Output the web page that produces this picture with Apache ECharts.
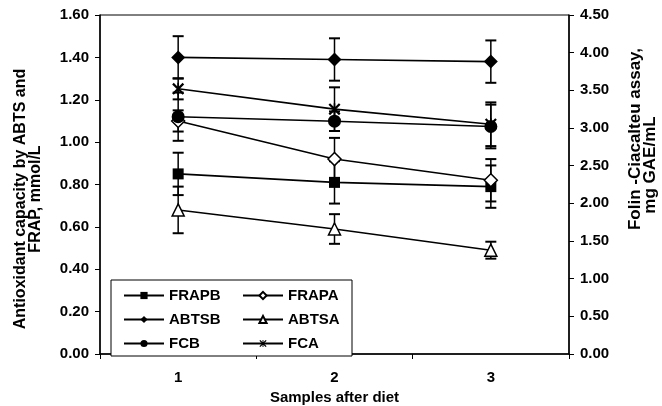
<!DOCTYPE html>
<html><head><meta charset="utf-8">
<script src="https://cdn.jsdelivr.net/npm/echarts@6/dist/echarts.min.js"></script>
<style>html,body{margin:0;padding:0;background:#fff}#c{width:662px;height:406px}</style>
</head><body><div id="c"></div>
<script>
// ---- data ----
const categories = ['1', '2', '3'];
const frapB = [0.85, 0.81, 0.79];
const frapBErr = [0.10, 0.10, 0.10];
const frapA = [1.10, 0.92, 0.82];
const frapAErr = [0.05, 0.10, 0.10];
const abtsB = [1.40, 1.39, 1.38];
const abtsBErr = [0.10, 0.10, 0.10];
const abtsA = [0.68, 0.59, 0.49];
const abtsAErr = [0.11, 0.07, 0.04];
const fcB = [3.15, 3.09, 3.02];
const fcBErr = [0.32, 0.13, 0.29];
const fcA = [3.52, 3.25, 3.05];
const fcAErr = [0.14, 0.29, 0.29];
const leftAxisName = ['Antioxidant capacity by ABTS and', 'FRAP, mmol/L'];
const rightAxisName = ['Folin -Ciacalteu assay,', 'mg GAE/mL'];
const xAxisName = 'Samples after diet';

const FONT = '"Liberation Sans", Arial, sans-serif';
const ASTERISK = 'path://M0,1.3L1.3,0L10,8.7L8.7,10Z M8.7,0L10,1.3L1.3,10L0,8.7Z M4.35,0H5.65V10H4.35Z';

const defs = [
  {name: 'FRAPB', data: frapB, err: frapBErr, axis: 0, symbol: 'rect', size: 11, fill: '#000'},
  {name: 'FRAPA', data: frapA, err: frapAErr, axis: 0, symbol: 'diamond', size: 13, fill: '#fff'},
  {name: 'ABTSB', data: abtsB, err: abtsBErr, axis: 0, symbol: 'diamond', size: 14, fill: '#000'},
  {name: 'ABTSA', data: abtsA, err: abtsAErr, axis: 0, symbol: 'triangle', size: 12, fill: '#fff'},
  {name: 'FCB', data: fcB, err: fcBErr, axis: 1, symbol: 'circle', size: 13, fill: '#000'},
  {name: 'FCA', data: fcA, err: fcAErr, axis: 1, symbol: ASTERISK, size: 12, fill: '#000'}
];

function errRender(params, api) {
  const x = api.value(0), v = api.value(1), e = api.value(2);
  const top = api.coord([x, v + e]);
  const bot = api.coord([x, v - e]);
  const hw = 5.5;
  const st = {stroke: '#000', lineWidth: 1.5};
  const cap = {stroke: '#000', lineWidth: 2};
  return {type: 'group', children: [
    {type: 'line', shape: {x1: top[0], y1: top[1], x2: bot[0], y2: bot[1]}, style: st},
    {type: 'line', shape: {x1: top[0] - hw, y1: top[1], x2: top[0] + hw, y2: top[1]}, style: cap},
    {type: 'line', shape: {x1: bot[0] - hw, y1: bot[1], x2: bot[0] + hw, y2: bot[1]}, style: cap}
  ]};
}

const series = [];
defs.forEach(d => {
  series.push({
    name: d.name, type: 'line', yAxisIndex: d.axis, data: d.data,
    symbol: d.symbol, symbolSize: d.size, showAllSymbol: true,
    lineStyle: {color: '#000', width: 1.6},
    itemStyle: {color: d.fill, borderColor: '#000', borderWidth: d.fill === '#fff' ? 1.5 : 0},
    z: 4
  });
  series.push({
    name: d.name + ' err', type: 'custom', yAxisIndex: d.axis,
    renderItem: errRender, encode: {x: 0, y: 1},
    data: d.data.map((v, i) => [i, v, d.err[i]]), z: 3, silent: true
  });
});

const axisCommon = {
  axisLine: {show: true, lineStyle: {color: '#000', width: 1.5}},
  axisTick: {show: true, inside: false, length: 5, lineStyle: {color: '#000', width: 1}},
  splitLine: {show: false},
  axisLabel: {color: '#000', fontFamily: FONT, fontSize: 15, fontWeight: 'bold', margin: 11,
              formatter: v => v.toFixed(2)}
};

const chart = echarts.init(document.getElementById('c'), null, {renderer: 'canvas'});
chart.setOption({
  animation: false,
  backgroundColor: '#fff',
  grid: {left: 100, right: 93, top: 15, bottom: 52, containLabel: false, outerBoundsMode: 'none',
         show: true, borderColor: '#000', borderWidth: 1},
  xAxis: {
    type: 'category', data: categories, boundaryGap: true,
    axisLine: {show: true, lineStyle: {color: '#000', width: 1.5}},
    axisTick: {show: true, inside: false, length: 5, alignWithLabel: false, lineStyle: {color: '#000'}},
    axisLabel: {color: '#000', fontFamily: FONT, fontSize: 15, fontWeight: 'bold', margin: 16},
    name: xAxisName, nameLocation: 'middle', nameGap: 35,
    nameTextStyle: {color: '#000', fontFamily: FONT, fontSize: 15, fontWeight: 'bold'}
  },
  yAxis: [
    Object.assign({type: 'value', position: 'left', min: 0, max: 1.6, interval: 0.2}, axisCommon),
    Object.assign({type: 'value', position: 'right', min: 0, max: 4.5, interval: 0.5}, axisCommon)
  ],
  legend: {
    data: defs.map(d => d.name),
    orient: 'horizontal', left: 111, top: 280, width: 300,
    padding: [8, 0, 5, 12],
    itemWidth: 40, itemHeight: 9, itemGap: 9,
    backgroundColor: '#fff', borderColor: '#000', borderWidth: 1,
    textStyle: {color: '#000', fontFamily: FONT, fontSize: 15, fontWeight: 'bold', width: 64, lineHeight: 9},
    selectedMode: false
  },
  graphic: [
    {type: 'text', x: 28, y: 199, rotation: Math.PI / 2,
     style: {text: leftAxisName.join('\n'), fontFamily: FONT, fontSize: 16, fontWeight: 'bold',
             fill: '#000', align: 'center', verticalAlign: 'middle', lineHeight: 15}},
    {type: 'text', x: 635, y: 139, rotation: Math.PI / 2,
     style: {text: rightAxisName[0], fontFamily: FONT, fontSize: 17, fontWeight: 'bold',
             fill: '#000', align: 'center', verticalAlign: 'middle'}},
    {type: 'text', x: 650, y: 165, rotation: Math.PI / 2,
     style: {text: rightAxisName[1], fontFamily: FONT, fontSize: 17, fontWeight: 'bold',
             fill: '#000', align: 'center', verticalAlign: 'middle'}}
  ],
  series: series
});
</script></body></html>
